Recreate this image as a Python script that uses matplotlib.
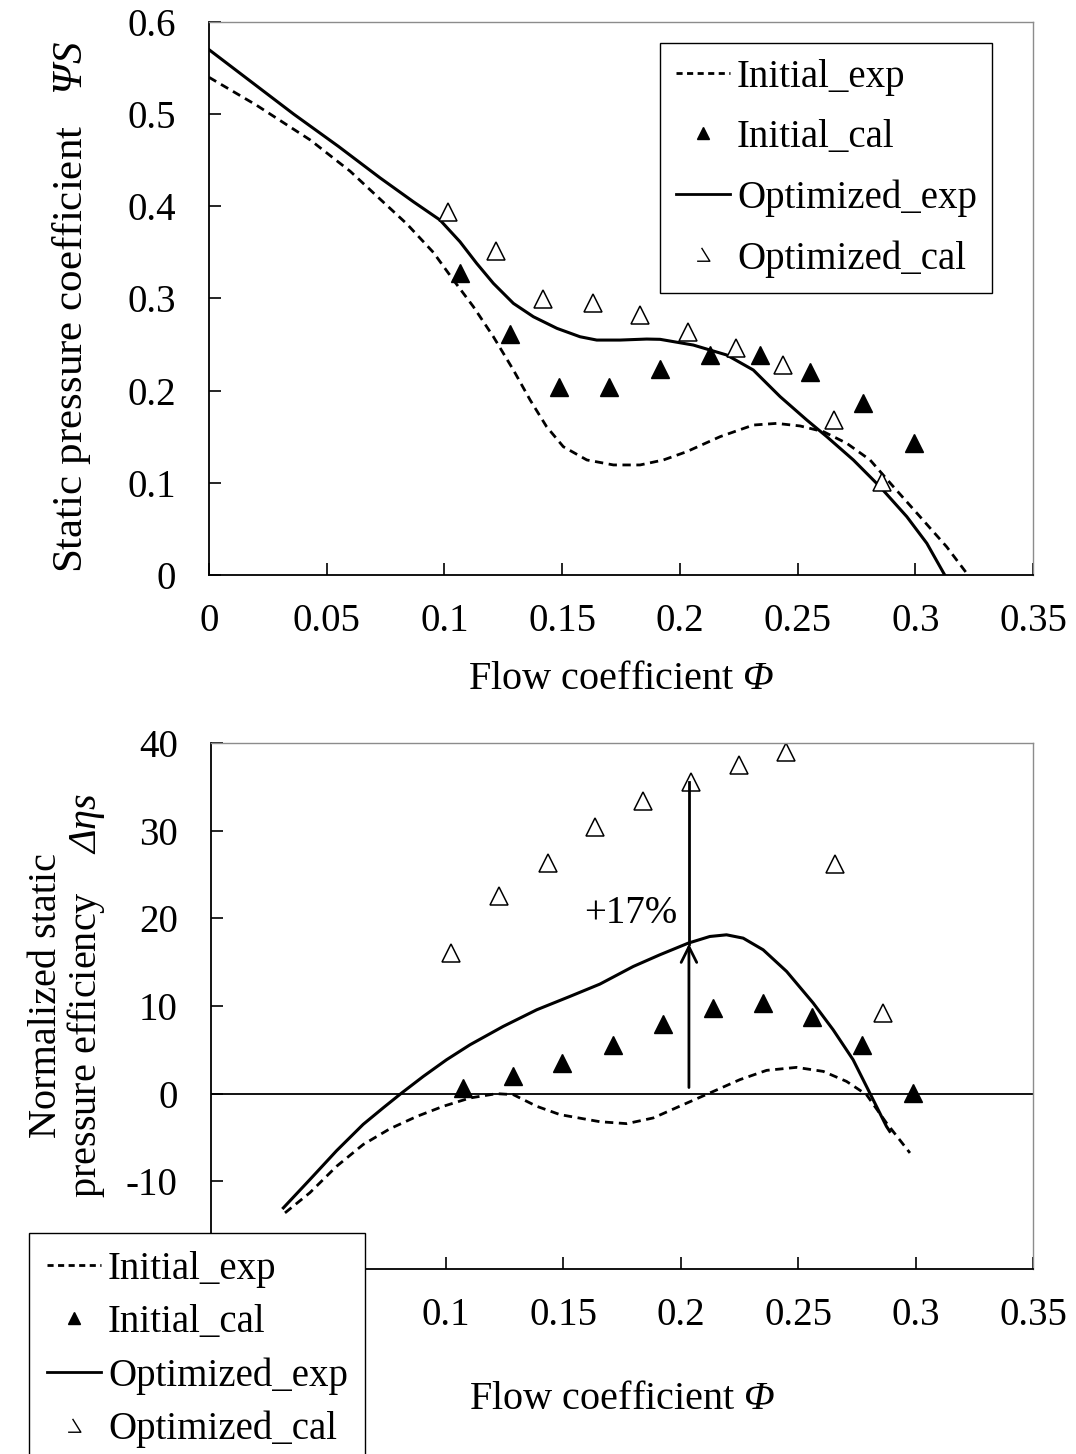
import numpy as np
import matplotlib.pyplot as plt
from matplotlib.lines import Line2D
from matplotlib.path import Path
from matplotlib.ticker import FuncFormatter

plt.rcParams['font.family'] = ['Liberation Serif', 'DejaVu Serif']
plt.rcParams['mathtext.fontset'] = 'custom'
# mathtext is only used for the italic symbols, so make both faces italic
plt.rcParams['mathtext.rm'] = 'Liberation Serif:italic'
plt.rcParams['mathtext.it'] = 'Liberation Serif:italic'
plt.rcParams['axes.unicode_minus'] = False

# ---- top panel: static pressure coefficient ----
psi_init_exp_x = [0, 0.02, 0.043, 0.06, 0.0726, 0.084, 0.0953, 0.1038, 0.1123, 0.1208,
                  0.1293, 0.1364, 0.1434, 0.1505, 0.1605, 0.1718, 0.1831, 0.193, 0.2029,
                  0.2171, 0.2312, 0.2411, 0.2511, 0.261, 0.2709, 0.2808, 0.2907, 0.302,
                  0.3133, 0.3224]
psi_init_exp_y = [0.540, 0.510, 0.472, 0.438, 0.408, 0.381, 0.350, 0.3201, 0.2911, 0.2585,
                  0.2224, 0.1899, 0.1609, 0.1392, 0.1248, 0.1194, 0.1194, 0.1248, 0.1338,
                  0.1501, 0.1627, 0.1645, 0.1617, 0.1555, 0.1429, 0.1248, 0.0958, 0.0633,
                  0.0307, 0.0]

psi_opt_exp_x = [0, 0.036, 0.055, 0.0726, 0.0868, 0.0981, 0.1066, 0.1137, 0.1208, 0.1293,
                 0.1378, 0.1478, 0.1576, 0.1647, 0.1746, 0.1859, 0.1916, 0.2057, 0.2199,
                 0.2312, 0.2426, 0.2539, 0.2624, 0.2737, 0.285, 0.2964, 0.3049, 0.3125]
psi_opt_exp_y = [0.570, 0.500, 0.465, 0.431, 0.405, 0.3852, 0.3616, 0.3381, 0.3164, 0.2947,
                 0.2802, 0.2676, 0.2585, 0.2549, 0.2549, 0.256, 0.2557, 0.2495, 0.2387,
                 0.2224, 0.1935, 0.1682, 0.1501, 0.1248, 0.0958, 0.0633, 0.0344, 0.0]

psi_init_cal_x = [0.1066, 0.128, 0.1487, 0.170, 0.1917, 0.213, 0.234, 0.2553, 0.278, 0.2995]
psi_init_cal_y = [0.3275, 0.262, 0.204, 0.204, 0.224, 0.2385, 0.2385, 0.220, 0.1865, 0.143]

psi_opt_cal_x = [0.1015, 0.122, 0.142, 0.163, 0.183, 0.2035, 0.224, 0.244, 0.2655, 0.286]
psi_opt_cal_y = [0.394, 0.352, 0.300, 0.295, 0.282, 0.264, 0.246, 0.228, 0.168, 0.101]

# ---- bottom panel: normalized static pressure efficiency ----
eta_init_exp_x = [0.0315, 0.0421, 0.0535, 0.0648, 0.0762, 0.0876, 0.0989, 0.1103, 0.1216,
                  0.1287, 0.1387, 0.1486, 0.1656, 0.177, 0.1883, 0.2011, 0.2124, 0.2252,
                  0.2366, 0.2493, 0.2607, 0.2706, 0.2791, 0.2876, 0.2976]
eta_init_exp_y = [-13.6, -11.3, -8.28, -5.8, -4.0, -2.6, -1.44, -0.49, 0.0,
                  -0.11, -1.44, -2.39, -3.2, -3.42, -2.77, -1.25, 0.08, 1.6,
                  2.66, 3.0, 2.54, 1.4, -0.11, -3.34, -6.76]

eta_opt_exp_x = [0.0308, 0.0421, 0.0535, 0.0648, 0.0734, 0.0812, 0.0904, 0.1003, 0.1103,
                 0.1244, 0.1387, 0.1528, 0.1656, 0.1798, 0.1911, 0.2032, 0.2124, 0.2195,
                 0.2266, 0.2351, 0.2451, 0.2564, 0.2649, 0.2734, 0.2805, 0.2876, 0.289]
eta_opt_exp_y = [-13.03, -9.8, -6.5, -3.5, -1.6, 0.08, 1.97, 3.87, 5.58,
                 7.67, 9.57, 11.09, 12.5, 14.51, 15.84, 17.17, 17.93, 18.12,
                 17.74, 16.41, 13.94, 10.34, 7.29, 3.87, 0.08, -3.73, -4.3]

eta_init_cal_x = [0.1073, 0.1286, 0.1494, 0.1711, 0.1924, 0.2137, 0.235, 0.2559, 0.2771, 0.2988]
eta_init_cal_y = [0.7, 2.0, 3.5, 5.6, 8.0, 9.8, 10.3, 8.8, 5.5, 0.1]

eta_opt_cal_x = [0.102, 0.1226, 0.1433, 0.1635, 0.184, 0.2043, 0.2248, 0.245, 0.2656, 0.286]
eta_opt_cal_y = [16.1, 22.5, 26.3, 30.4, 33.4, 35.6, 37.5, 39.0, 26.2, 9.2]

arrow_x = 0.2035
arrow_base, arrow_head, arrow_top = 0.7, 17.1, 35.5

labels = ['Initial_exp', 'Initial_cal', 'Optimized_exp', 'Optimized_cal']
x_ticks = [0, 0.05, 0.1, 0.15, 0.2, 0.25, 0.3, 0.35]

W, H = 1076, 1454
fig = plt.figure(figsize=(W / 100, H / 100), dpi=100)
ax1 = fig.add_axes([209 / W, 1 - 575 / H, 824 / W, 553 / H])
ax2 = fig.add_axes([211 / W, 1 - 1269 / H, 822 / W, 526 / H])

dash = (3, 2)


def style_axes(ax, hidden_x=(), hidden_y=()):
    ax.spines['top'].set_color('#8c8c8c')
    ax.spines['right'].set_color('#8c8c8c')
    ax.spines['top'].set_linewidth(1.0)
    ax.spines['right'].set_linewidth(1.0)
    ax.spines['left'].set_linewidth(1.3)
    ax.spines['bottom'].set_linewidth(1.3)
    ax.tick_params(direction='in', length=8.5, width=1.2, labelsize=28,
                   top=False, right=False)
    ax.tick_params(axis='x', pad=20)
    ax.tick_params(axis='y', pad=24)
    ax.xaxis.set_major_formatter(FuncFormatter(
        lambda v, p: '' if any(abs(v - h) < 1e-9 for h in hidden_x) else '%g' % v))
    ax.yaxis.set_major_formatter(FuncFormatter(
        lambda v, p: '' if any(abs(v - h) < 1e-9 for h in hidden_y) else '%g' % v))
    ax.set_xlim(0, 0.35)
    ax.set_xticks(x_ticks)


def legend_handles():
    odd = Path([(-0.15, 0.6), (0.5, -0.45), (-0.5, -0.45)],
               [Path.MOVETO, Path.LINETO, Path.LINETO])
    return [
        Line2D([], [], color='k', lw=2, dashes=(2.2, 1.6)),
        Line2D([], [], ls='none', marker='^', ms=9, color='k'),
        Line2D([], [], color='k', lw=2),
        Line2D([], [], ls='none', marker=odd, ms=11, mfc='none', mec='k', mew=1.0),
    ]


# top panel
style_axes(ax1)
ax1.plot(psi_init_exp_x, psi_init_exp_y, color='k', lw=2, dashes=dash)
ax1.plot(psi_opt_exp_x, psi_opt_exp_y, color='k', lw=2.2)
ax1.plot(psi_init_cal_x, psi_init_cal_y, ls='none', marker='^', ms=13, color='k')
ax1.plot(psi_opt_cal_x, psi_opt_cal_y, ls='none', marker='^', ms=13,
         mfc='white', mec='k', mew=1.1)
ax1.set_ylim(0, 0.6)
ax1.set_yticks(np.arange(0, 0.61, 0.1))
ax1.set_xlabel(r'Flow coefficient $Φ$', fontsize=29)
ax1.xaxis.set_label_coords(0.5, -0.155)
ax1.set_ylabel(r'Static pressure coefficient   $ΨS$', fontsize=31)
ax1.yaxis.set_label_coords(-0.141, 0.485)
ax1.legend(legend_handles(), labels, loc='upper left',
           bbox_to_anchor=(660 / W, 1 - 43 / H), bbox_transform=fig.transFigure,
           fontsize=28, frameon=True, fancybox=False, edgecolor='k',
           framealpha=1, borderpad=0.4, labelspacing=0.6, handlelength=1.4,
           handletextpad=0.18, borderaxespad=0)

# bottom panel
style_axes(ax2, hidden_x=(0, 0.05), hidden_y=(-20,))
ax2.axhline(0, color='k', lw=1.3)
ax2.plot(eta_init_exp_x, eta_init_exp_y, color='k', lw=2, dashes=dash)
ax2.plot(eta_opt_exp_x, eta_opt_exp_y, color='k', lw=2.2)
ax2.plot(eta_init_cal_x, eta_init_cal_y, ls='none', marker='^', ms=13, color='k')
ax2.plot(eta_opt_cal_x, eta_opt_cal_y, ls='none', marker='^', ms=13,
         mfc='white', mec='k', mew=1.1)
ax2.plot([arrow_x, arrow_x], [arrow_head, arrow_top], color='k', lw=2)
ax2.annotate('', xy=(arrow_x, arrow_head), xytext=(arrow_x, arrow_base),
             arrowprops=dict(arrowstyle='->', color='k', lw=2, mutation_scale=28,
                             shrinkA=0, shrinkB=0))
ax2.text(0.1985, 20.6, '+17%', ha='right', va='center', fontsize=28)
ax2.set_ylim(-20, 40)
ax2.set_yticks(np.arange(-20, 41, 10))
ax2.set_xlabel(r'Flow coefficient $Φ$', fontsize=29)
ax2.xaxis.set_label_coords(0.5, -0.213)
ax2.set_ylabel('Normalized static\n' + r'pressure efficiency    $Δηs$',
               fontsize=29, multialignment='center', linespacing=1.0)
ax2.yaxis.set_label_coords(-0.1265, 0.52)
ax2.legend(legend_handles(), labels, loc='upper left',
           bbox_to_anchor=(29 / W, 1 - 1233 / H), bbox_transform=fig.transFigure,
           fontsize=28, frameon=True, fancybox=False, edgecolor='k',
           framealpha=1, borderpad=0.45, labelspacing=0.42, handlelength=1.4,
           handletextpad=0.18, borderaxespad=0)

fig.savefig('out.png', dpi=100)
